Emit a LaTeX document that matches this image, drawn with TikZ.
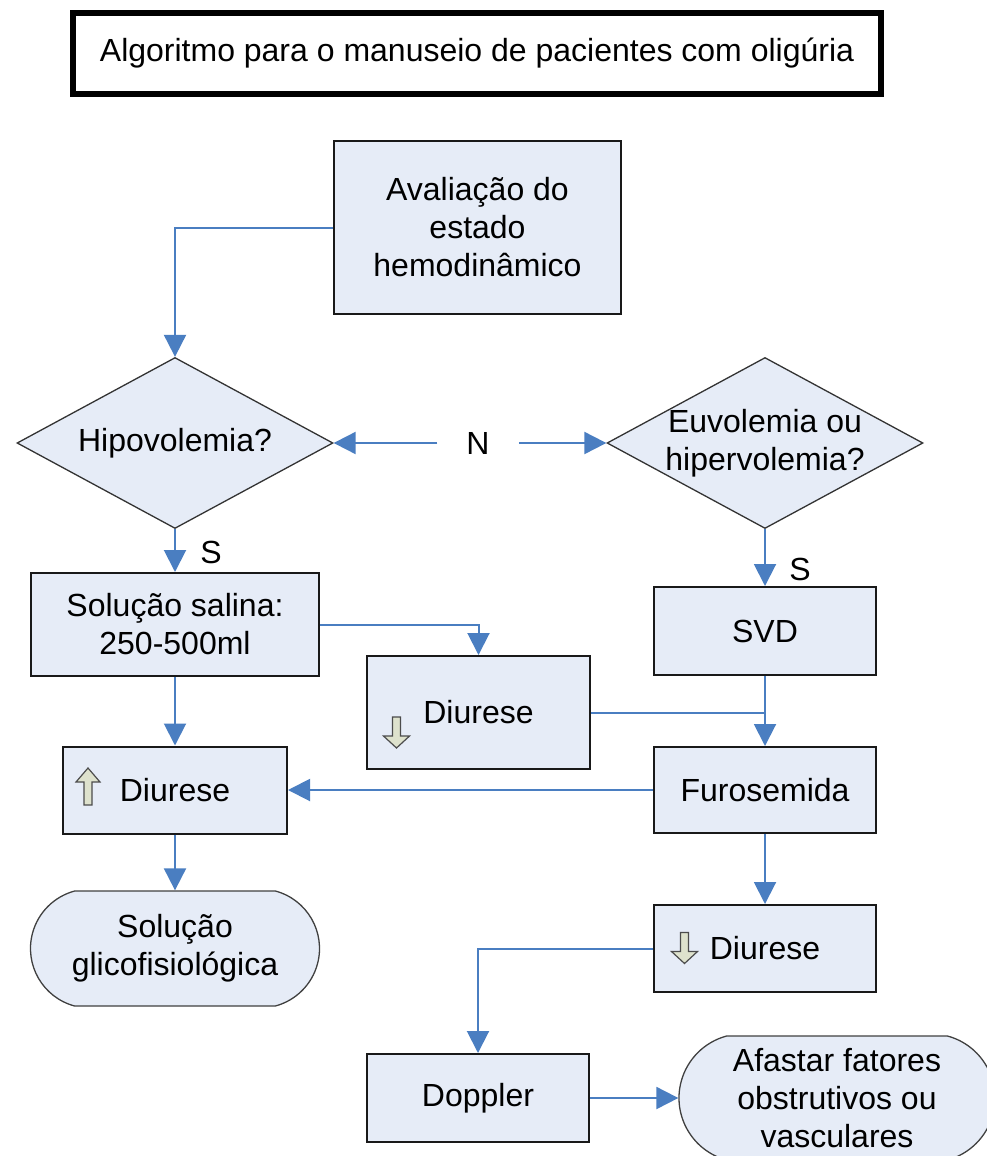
\documentclass[tikz,border=0pt]{standalone}
\usepackage{fontspec}
\setmainfont{Liberation Sans}
\usetikzlibrary{positioning,shapes.geometric,shapes.misc,arrows.meta}

\definecolor{flowblue}{RGB}{74,126,193}
\definecolor{boxfill}{RGB}{230,236,247}
\definecolor{arrfill}{RGB}{222,226,205}

\begin{document}
\begin{tikzpicture}[x=1pt,y=-1pt,
    font=\fontsize{32}{38}\selectfont,
    box/.style={draw=black!90,line width=2pt,fill=boxfill,align=center,minimum width=222pt,minimum height=87pt,inner sep=0pt},
    decision/.style={diamond,draw=black!80,line width=1.3pt,fill=boxfill,aspect=1.85,minimum width=316pt,minimum height=171pt,inner sep=0pt},
    terminal/.style={rounded rectangle,rounded rectangle arc length=150,draw=black!75,line width=1.3pt,fill=boxfill,align=center,inner sep=0pt},
    flow/.style={draw=flowblue,line width=2pt,-{Triangle[length=22pt,width=22pt]}},
    link/.style={draw=flowblue,line width=2pt},
    uparr/.pic={\filldraw[fill=arrfill,draw=black!70,line width=1.2pt] (-4,18.5) -- (-4,-4.5) -- (-12,-4.5) -- (0,-18.5) -- (12,-4.5) -- (4,-4.5) -- (4,18.5) -- cycle;},
    downarr/.pic={\filldraw[fill=arrfill,draw=black!70,line width=1.2pt] (-4,-15.5) -- (-4,3.5) -- (-13,3.5) -- (0,15.5) -- (13,3.5) -- (4,3.5) -- (4,-15.5) -- cycle;}
]
    \useasboundingbox (0,0) rectangle (986,1156);

    % title
    \node[draw,line width=6pt,minimum width=808pt,minimum height=81pt] (title) at (477,53.5) {Algoritmo para o manuseio de pacientes com oligúria};

    % left column
    \node[box,minimum width=287pt,minimum height=173pt] (aval) at (477.5,227.5) {Avaliação do\\estado\\hemodinâmico};
    \node[decision,label={[align=center]center:Hipovolemia?}] (hipo) at (175,443) {};
    \node[box,minimum width=288pt,minimum height=103pt] (salina) at (175,624.5) {Solução salina:\\250-500ml};
    \node[box,minimum width=224pt] (dup) at (175,790) {Diurese};
    \node[terminal,minimum width=289pt,minimum height=115pt] (glico) at (175,948.5) {Solução\\glicofisiológica};

    % middle
    \node[inner xsep=29pt] (n) at (478,443) {N};
    \node[box,minimum width=223pt,minimum height=113pt] (dmid) at (478.5,712.5) {Diurese};
    \node[box,minimum height=88pt] (doppler) at (478,1098) {Doppler};

    % right column
    \node[decision,label={[align=center]center:Euvolemia ou\\hipervolemia?}] (euvo) at (765,443) {};
    \node[box,minimum height=88pt] (svd) at (765,631) {SVD};
    \node[box,minimum height=86pt] (furo) at (765,790) {Furosemida};
    \node[box] (dlow) at (765,948.5) {Diurese};
    \node[terminal,minimum width=316pt,minimum height=124pt] (afastar) at (837,1098) {Afastar fatores\\obstrutivos ou\\vasculares};

    \node (s1) at (211,552) {S};
    \node (s2) at (800,569) {S};

    \pic at (88,786.5) {uparr};
    \pic at (396.5,732.5) {downarr};
    \pic at (684.5,948) {downarr};

    % connectors
    \draw[flow] (aval.west) -| (hipo.north);
    \draw[flow] (hipo.south) -- (salina.north);
    \draw[flow] (n.west) -- (hipo.east);
    \draw[flow] (n.east) -- (euvo.west);
    \draw[flow] (euvo.south) -- (svd.north);
    \draw[flow] (salina.east) -| (dmid.north);
    \draw[link] (dmid.east) -- (dmid.east -| svd.south);
    \draw[flow] (svd.south) -- (furo.north);
    \draw[flow] (salina.south) -- (dup.north);
    \draw[flow] (furo.west) -- (dup.east);
    \draw[flow] (dup.south) -- (glico.north);
    \draw[flow] (furo.south) -- (dlow.north);
    \draw[flow] (dlow.west) -| (doppler.north);
    \draw[flow] (doppler.east) -- (afastar.west);
\end{tikzpicture}
\end{document}
